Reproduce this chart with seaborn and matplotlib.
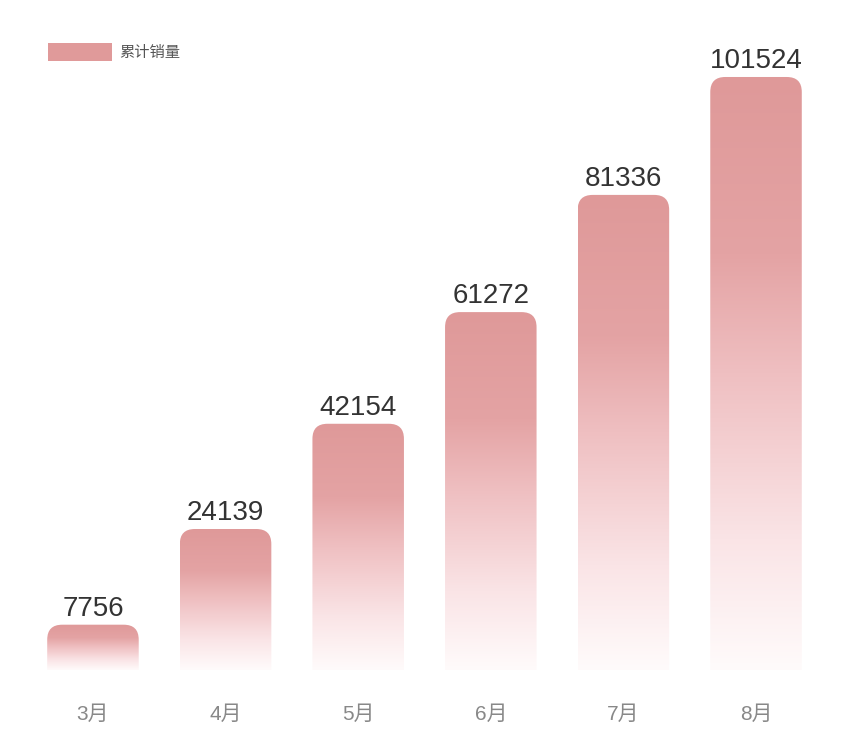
import numpy as np
import pandas as pd
import matplotlib
matplotlib.use("Agg")
import matplotlib.pyplot as plt
import seaborn as sns
from matplotlib.patches import FancyBboxPatch, Patch
from matplotlib.colors import LinearSegmentedColormap

# data
months = ['3月', '4月', '5月', '6月', '7月', '8月']
sales = [7756, 24139, 42154, 61272, 81336, 101524]
series_name = '累计销量'

df = pd.DataFrame({'月份': months, '销量': sales})

sns.set_theme(style='white')
plt.rcParams['font.family'] = ['Liberation Sans', 'Noto Sans CJK SC', 'DejaVu Sans']

bar_color = '#e09a9a'
grad = LinearSegmentedColormap.from_list(
    'fade', [(0.0, '#fffbfb'), (0.22, '#fae4e6'), (0.5, '#efbfc1'),
             (0.7, '#e4a3a4'), (1.0, '#df9999')])

fig = plt.figure(figsize=(8.6, 7.54), dpi=100)
ax = fig.add_axes([0, 84 / 754, 1, 670 / 754])

sns.barplot(data=df, x='月份', y='销量', color=bar_color, width=0.69, ax=ax)

# px -> data units for rounding the top corners
x_per_px = 1 / 132.6
y_per_px = 171.2
r_px = 15
aspect = (r_px * y_per_px) / (r_px * x_per_px)

img = np.linspace(0, 1, 256).reshape(-1, 1)
for p, v in zip(list(ax.patches), sales):
    x0, w = p.get_x(), p.get_width()
    p.set_visible(False)
    box = FancyBboxPatch((x0, -4000), w, v + 4000,
                         boxstyle=f'round,pad=0,rounding_size={r_px * x_per_px}',
                         mutation_aspect=aspect, facecolor='none',
                         edgecolor='none', transform=ax.transData)
    ax.add_patch(box)
    im = ax.imshow(img, cmap=grad, origin='lower', aspect='auto',
                   extent=(x0, x0 + w, 0, v), interpolation='bicubic', zorder=2)
    im.set_clip_path(box)
    ax.annotate(f'{v}', (x0 + w / 2, v), xytext=(0, 2),
                textcoords='offset points', ha='center', va='bottom',
                fontsize=20, color='#333333')

ax.set_xlim(-0.701, 5.784)
ax.set_ylim(0, 670 * 171.2)
ax.set_xlabel('')
ax.set_ylabel('')
ax.set_yticks([])
ax.tick_params(axis='x', length=0, pad=25, labelsize=15, labelcolor='#888888')
sns.despine(ax=ax, left=True, bottom=True)

leg = ax.legend(handles=[Patch(facecolor=bar_color, edgecolor='none', label=series_name)],
                loc='upper left', bbox_to_anchor=(48 / 860, 1 - 43 / 670), frameon=False,
                prop={'family': ['Noto Sans CJK SC'], 'size': 11},
                handlelength=4.2, handleheight=1.45, handletextpad=0.45,
                borderaxespad=0, borderpad=0)
for t in leg.get_texts():
    t.set_color('#555555')

fig.savefig('out.png', dpi=100, facecolor='white')
